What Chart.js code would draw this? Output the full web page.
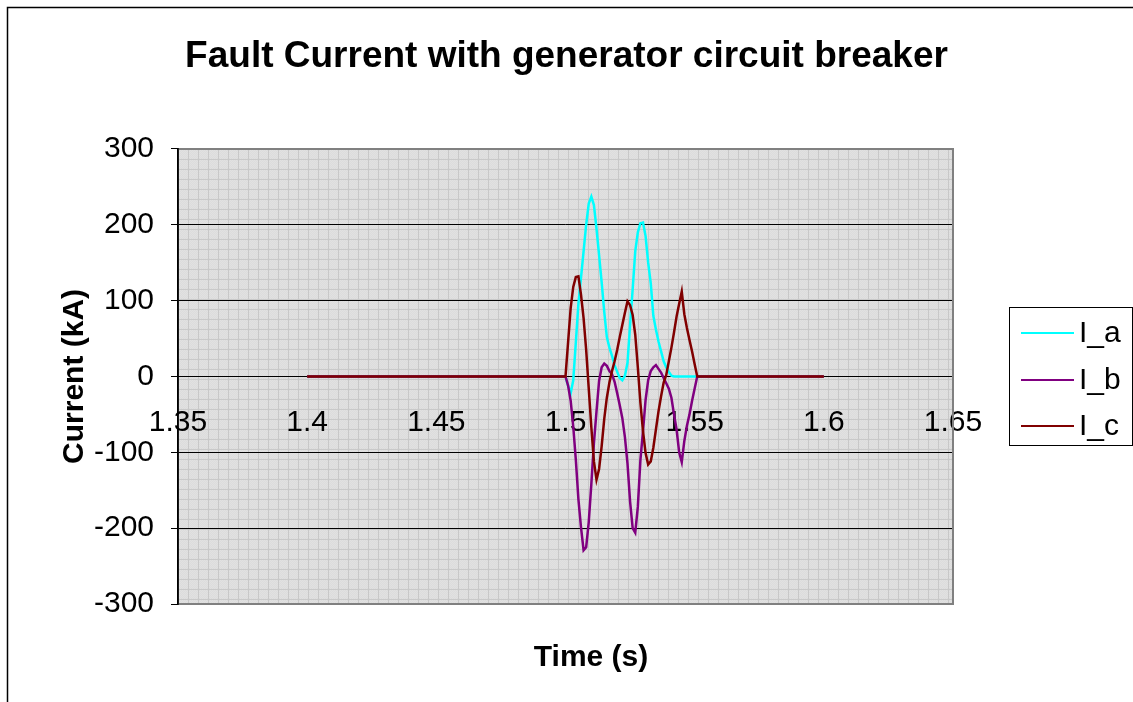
<!DOCTYPE html>
<html>
<head>
<meta charset="utf-8">
<script src="https://cdn.jsdelivr.net/npm/chart.js@4/dist/chart.umd.min.js"></script>
<style>
  html, body { margin: 0; padding: 0; background: #ffffff; }
  #wrap { position: relative; width: 1133px; height: 702px; }
  canvas { display: block; }
</style>
</head>
<body>
<div id="wrap"><canvas id="c" width="1133" height="702"></canvas></div>
<script>
const chartTitle = 'Fault Current with generator circuit breaker';
const xTitle = 'Time (s)';
const yTitle = 'Current (kA)';
const seriesNames = ['I_a', 'I_b', 'I_c'];

const time = [1.4,
  1.5, 1.501, 1.502, 1.503, 1.504, 1.505, 1.506, 1.507, 1.508, 1.509,
  1.51, 1.511, 1.512, 1.513, 1.514, 1.515, 1.516, 1.517, 1.518, 1.519,
  1.52, 1.521, 1.522, 1.523, 1.524, 1.525, 1.526, 1.527, 1.528, 1.529,
  1.53, 1.531, 1.532, 1.533, 1.534, 1.535, 1.536, 1.537, 1.538, 1.539,
  1.54, 1.541, 1.542, 1.543, 1.544, 1.545, 1.546, 1.547, 1.548, 1.549,
  1.55, 1.551,
  1.6];

const Ia = [0,
  0, -12, -22, -5, 45, 96, 130, 165, 200, 228,
  237, 226, 195, 160, 124, 85, 52, 38, 27, 15,
  6, -2, -5, 1, 18, 68, 115, 165, 190, 202,
  203, 185, 150, 123, 80, 62, 46, 33, 20, 12,
  6, 1, 0, 0, 0, 0, 0, 0, 0, 0,
  0, 0,
  0];

const Ib = [0,
  0, -12, -32, -66, -110, -162, -199, -229, -225, -192,
  -142, -88, -46, -6, 12, 17, 14, 7, 3, -7,
  -22, -38, -55, -80, -115, -165, -200, -206, -172, -110,
  -72, -31, -5, 7, 12, 15, 10, 5, -2, -9,
  -16, -28, -50, -70, -100, -113, -85, -65, -50, -32,
  -16, 0,
  0];

const Ic = [0,
  0, 45, 90, 118, 131, 132, 108, 77, 35, -16,
  -67, -112, -136, -122, -92, -56, -28, -8, 7, 20,
  35, 52, 68, 84, 99, 94, 81, 55, 12, -35,
  -72, -101, -116, -112, -94, -70, -46, -26, -8, 2,
  20, 38, 58, 79, 96, 112, 82, 64, 48, 33,
  16, 0,
  0];

const xTickValues = [1.35, 1.4, 1.45, 1.5, 1.55, 1.6, 1.65];
const xTickLabels = ['1.35', '1.4', '1.45', '1.5', '1.55', '1.6', '1.65'];
const yTickValues = [-300, -200, -100, 0, 100, 200, 300];
const yTickLabels = ['-300', '-200', '-100', '0', '100', '200', '300'];

const seriesColors = ['#00FFFF', '#800080', '#800000'];
const FONT = '"Liberation Sans", Arial, Helvetica, sans-serif';

function toPoints(vals) { return time.map((t, i) => ({ x: t, y: vals[i] })); }

// Excel-like "small grid" pattern for the plot area
function makePattern(ctx) {
  const tile = document.createElement('canvas');
  tile.width = 10; tile.height = 10;
  const t = tile.getContext('2d');
  t.fillStyle = '#e2e2e2';
  t.fillRect(0, 0, 10, 10);
  for (let y = 0; y < 10; y++) {
    for (let x = 0; x < 10; x++) {
      if ((x + y) % 2 === 0) { t.fillStyle = '#dcdcdc'; t.fillRect(x, y, 1, 1); }
    }
  }
  t.fillStyle = '#c8c8c8';
  t.fillRect(0, 0, 10, 1);
  t.fillRect(0, 0, 1, 10);
  return ctx.createPattern(tile, 'repeat');
}

const decorPlugin = {
  id: 'decor',
  beforeDraw(chart) {
    const { ctx, chartArea: a } = chart;
    ctx.save();
    ctx.strokeStyle = '#000';
    ctx.lineWidth = 1.5;
    ctx.beginPath();
    ctx.moveTo(7.5, 702);
    ctx.lineTo(7.5, 7.5);
    ctx.lineTo(1133, 7.5);
    ctx.stroke();
    ctx.translate(a.left, a.top);
    ctx.fillStyle = makePattern(ctx);
    ctx.fillRect(0, 0, a.right - a.left, a.bottom - a.top);
    ctx.restore();
  },
  beforeDatasetsDraw(chart) {
    const { ctx, chartArea: a } = chart;
    ctx.save();
    ctx.strokeStyle = '#808080';
    ctx.lineWidth = 2;
    ctx.beginPath();
    ctx.moveTo(a.left, a.top);
    ctx.lineTo(a.right, a.top);
    ctx.lineTo(a.right, a.bottom);
    ctx.lineTo(a.left, a.bottom);
    ctx.stroke();
    ctx.strokeStyle = '#000';
    ctx.lineWidth = 1.5;
    ctx.beginPath();
    ctx.moveTo(a.left, a.top - 1);
    ctx.lineTo(a.left, a.bottom + 1);
    ctx.stroke();
    ctx.restore();
  },
  afterDraw(chart) {
    const { ctx } = chart;
    ctx.save();
    ctx.fillStyle = '#000';
    ctx.font = 'bold 30px ' + FONT;
    ctx.textAlign = 'center';
    ctx.textBaseline = 'middle';
    ctx.fillText(xTitle, 591, 658);
    ctx.strokeStyle = '#000';
    ctx.lineWidth = 1;
    ctx.strokeRect(1009.5, 307.5, 123, 138);
    ctx.font = '30px ' + FONT;
    ctx.textAlign = 'left';
    const rows = [333, 380, 426];
    chart.data.datasets.forEach((ds, i) => {
      const y = rows[i];
      ctx.strokeStyle = ds.borderColor;
      ctx.lineWidth = 2;
      ctx.beginPath();
      ctx.moveTo(1021, y);
      ctx.lineTo(1074, y);
      ctx.stroke();
      ctx.fillStyle = '#000';
      ctx.fillText(ds.label, 1079, y + 1);
    });
    ctx.restore();
  }
};

new Chart(document.getElementById('c'), {
  type: 'line',
  data: {
    datasets: [
      { label: seriesNames[0], data: toPoints(Ia), borderColor: seriesColors[0], order: 2 },
      { label: seriesNames[1], data: toPoints(Ib), borderColor: seriesColors[1], order: 1 },
      { label: seriesNames[2], data: toPoints(Ic), borderColor: seriesColors[2], order: 0 }
    ]
  },
  options: {
    responsive: false,
    animation: false,
    events: [],
    elements: {
      line: { borderWidth: 2.5, tension: 0, fill: false },
      point: { radius: 0 }
    },
    layout: { padding: { left: 0, right: 0, top: 0, bottom: 98 } },
    plugins: {
      legend: { display: false },
      tooltip: { enabled: false },
      title: {
        display: true,
        text: chartTitle,
        color: '#000',
        font: { family: FONT, size: 37, weight: 'bold' },
        padding: { top: 35, bottom: 69.5 }
      }
    },
    scales: {
      x: {
        type: 'linear',
        position: { y: 0 },
        min: 1.35,
        max: 1.65,
        afterBuildTicks: (s) => { s.ticks = xTickValues.map(v => ({ value: v })); },
        ticks: {
          callback: (v, i) => xTickLabels[i],
          color: '#000',
          font: { family: FONT, size: 30 },
          padding: 28,
          maxRotation: 0,
          autoSkip: false
        },
        grid: { display: false, drawTicks: false },
        border: { display: true, color: '#000', width: 1 }
      },
      y: {
        type: 'linear',
        position: 'left',
        min: -300,
        max: 300,
        afterBuildTicks: (s) => { s.ticks = yTickValues.map(v => ({ value: v })); },
        afterFit: (s) => { s.width = 178; },
        ticks: {
          callback: (v, i) => yTickLabels[i],
          color: '#000',
          font: { family: FONT, size: 30 },
          padding: 17,
          autoSkip: false
        },
        grid: { color: '#000', lineWidth: 1, tickLength: 7, tickColor: '#000' },
        border: { display: true, color: '#000', width: 1.5 },
        title: {
          display: true,
          text: yTitle,
          color: '#000',
          font: { family: FONT, size: 30, weight: 'bold' },
          padding: { top: 57, bottom: 0 }
        }
      },
      legendSpace: {
        type: 'linear',
        axis: 'y',
        position: 'right',
        display: true,
        afterFit: (s) => { s.width = 180; },
        ticks: { display: false },
        grid: { display: false, drawOnChartArea: false, drawTicks: false },
        border: { display: false }
      }
    }
  },
  plugins: [decorPlugin]
});
</script>
</body>
</html>
